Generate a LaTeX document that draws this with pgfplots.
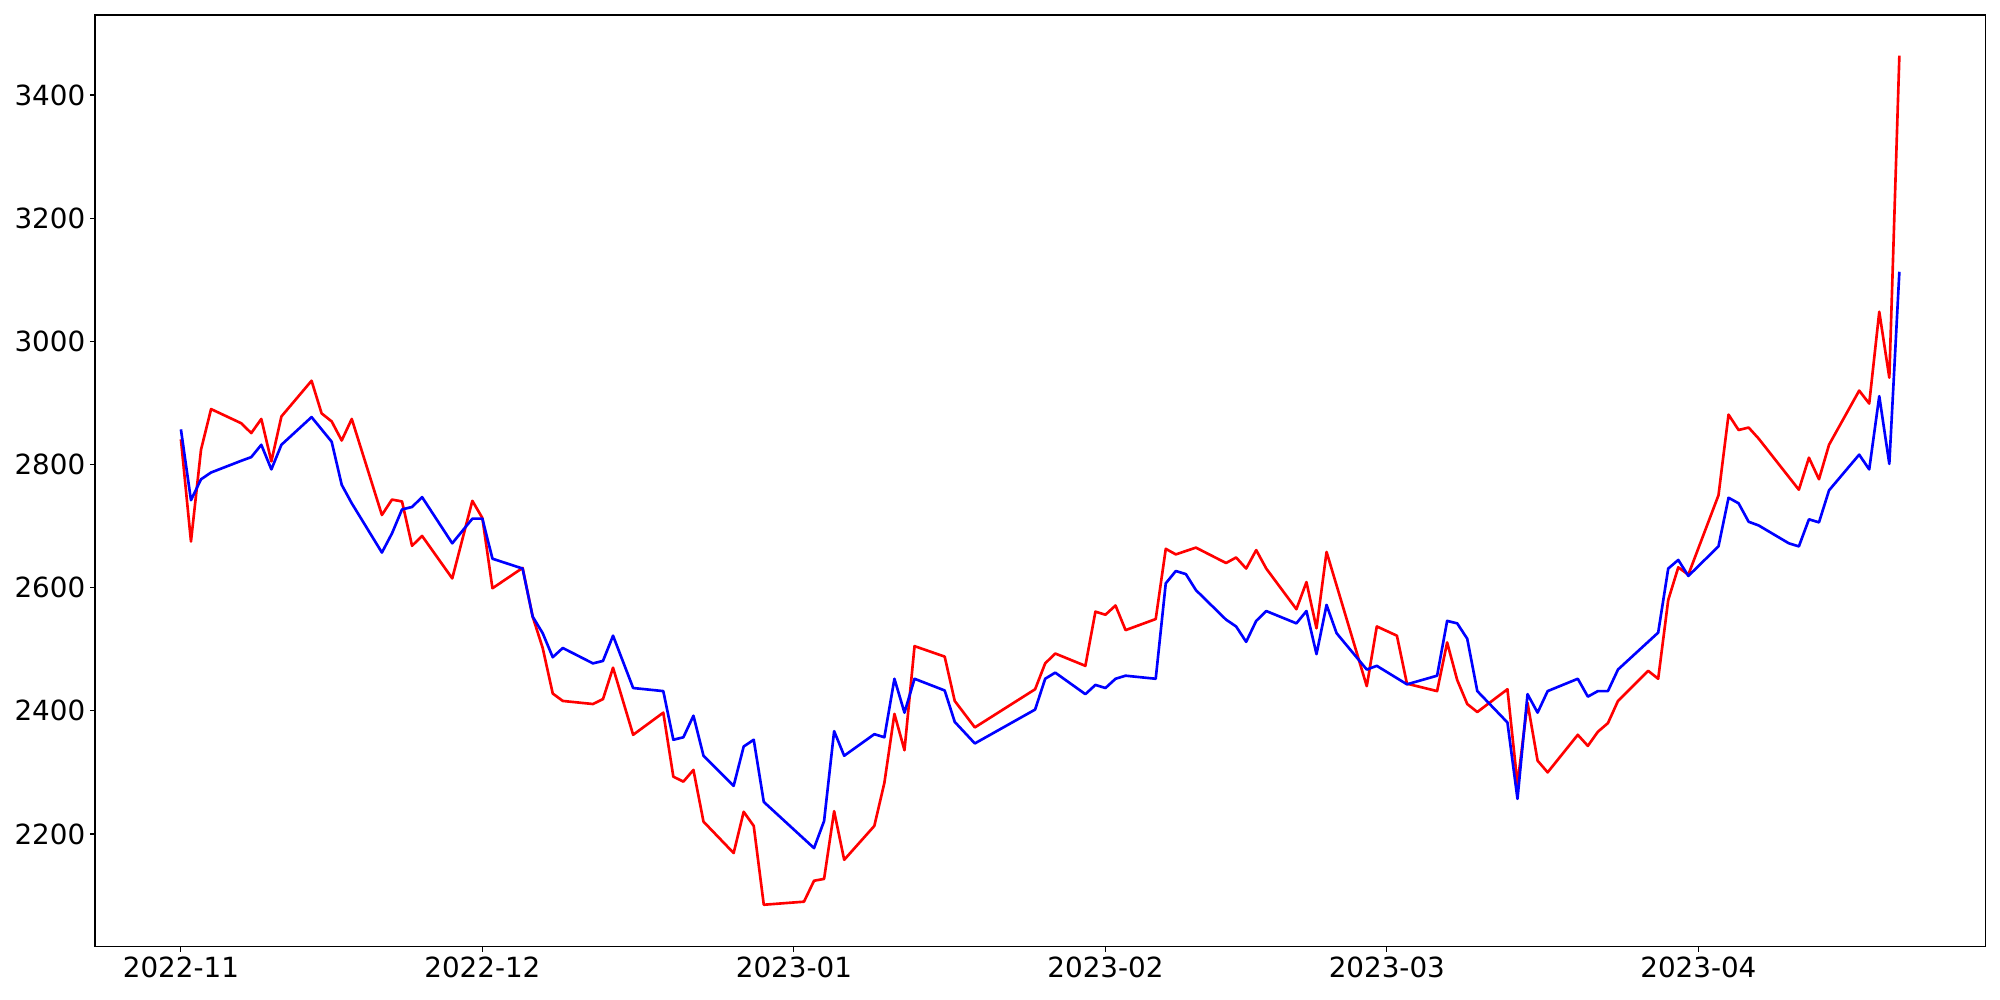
\documentclass[border=0pt]{standalone}
\usepackage{fontspec}
\setmainfont{DejaVu Sans}
\usepackage{pgfplots}
\pgfplotsset{compat=1.18}
\begin{document}
\begin{tikzpicture}
\begin{axis}[
  scale only axis, width=1361pt, height=671pt,
  xmin=-8.55, xmax=179.55, ymin=2016.5, ymax=3530,
  xtick={0,30,61,92,120,151},
  xticklabels={2022-11,2022-12,2023-01,2023-02,2023-03,2023-04},
  ytick={2200,2400,2600,2800,3000,3200,3400},
  tick align=outside, tick pos=left,
  major tick length=3.5pt,
  every tick/.style={black, line width=0.8pt},
  axis line style={line width=0.8pt},
  tick label style={font=\fontsize{20}{24}\selectfont},
  /pgf/number format/assume math mode=true,
  /pgf/number format/1000 sep={},
  scaled y ticks=false,
]
\addplot[red, line width=1.9pt, mark=none, line join=round] table {
0 2841
1 2675
2 2824
3 2890
6 2867
7 2851
8 2874
9 2805
10 2878
13 2936
14 2883
15 2870
16 2839
17 2874
20 2718
21 2743
22 2740
23 2668
24 2684
27 2615
29 2741
30 2713
31 2599
34 2632
35 2553
36 2502
37 2428
38 2416
41 2411
42 2419
43 2470
45 2361
48 2397
49 2293
50 2285
51 2304
52 2220
55 2169
56 2236
57 2213
58 2085
62 2090
63 2124
64 2127
65 2237
66 2158
69 2213
70 2283
71 2395
72 2336
73 2505
76 2488
77 2416
79 2373
85 2435
86 2477
87 2493
90 2473
91 2561
92 2556
93 2571
94 2531
97 2549
98 2663
99 2654
101 2665
104 2640
105 2649
106 2631
107 2661
108 2631
111 2565
112 2609
113 2534
114 2658
118 2440
119 2537
121 2522
122 2444
125 2432
126 2511
127 2450
128 2411
129 2398
132 2435
133 2281
134 2413
135 2319
136 2300
139 2361
140 2343
141 2366
142 2380
143 2416
146 2465
147 2452
148 2580
149 2633
150 2621
153 2750
154 2881
155 2856
156 2860
157 2842
161 2759
162 2811
163 2776
164 2832
167 2920
168 2899
169 3048
170 2941
171 3464
};
\addplot[blue, line width=1.9pt, mark=none, line join=round] table {
0 2857
1 2742
2 2776
3 2787
6 2806
7 2812
8 2832
9 2792
10 2832
13 2877
15 2837
16 2767
17 2737
20 2657
21 2688
22 2727
23 2731
24 2747
27 2672
29 2712
30 2712
31 2647
34 2631
35 2553
36 2526
37 2487
38 2502
41 2477
42 2481
43 2522
45 2437
48 2432
49 2353
50 2357
51 2392
52 2327
55 2278
56 2342
57 2353
58 2252
63 2177
64 2221
65 2367
66 2327
69 2362
70 2357
71 2452
72 2397
73 2452
76 2433
77 2382
79 2347
85 2402
86 2452
87 2462
90 2427
91 2442
92 2437
93 2452
94 2457
97 2452
98 2607
99 2627
100 2622
101 2596
104 2548
105 2537
106 2512
107 2546
108 2562
111 2542
112 2562
113 2492
114 2572
115 2526
118 2467
119 2473
122 2443
125 2457
126 2546
127 2542
128 2517
129 2432
132 2381
133 2257
134 2427
135 2397
136 2432
139 2452
140 2423
141 2432
142 2432
143 2467
147 2527
148 2631
149 2645
150 2619
153 2667
154 2746
155 2737
156 2707
157 2701
160 2672
161 2667
162 2711
163 2706
164 2758
167 2816
168 2792
169 2911
170 2801
171 3113
};
\end{axis}
\pgfresetboundingbox
\path ([xshift=-68.4pt,yshift=-38.2pt]current axis.south west) rectangle ([xshift=10.6pt,yshift=10.8pt]current axis.north east);
\end{tikzpicture}
\end{document}
